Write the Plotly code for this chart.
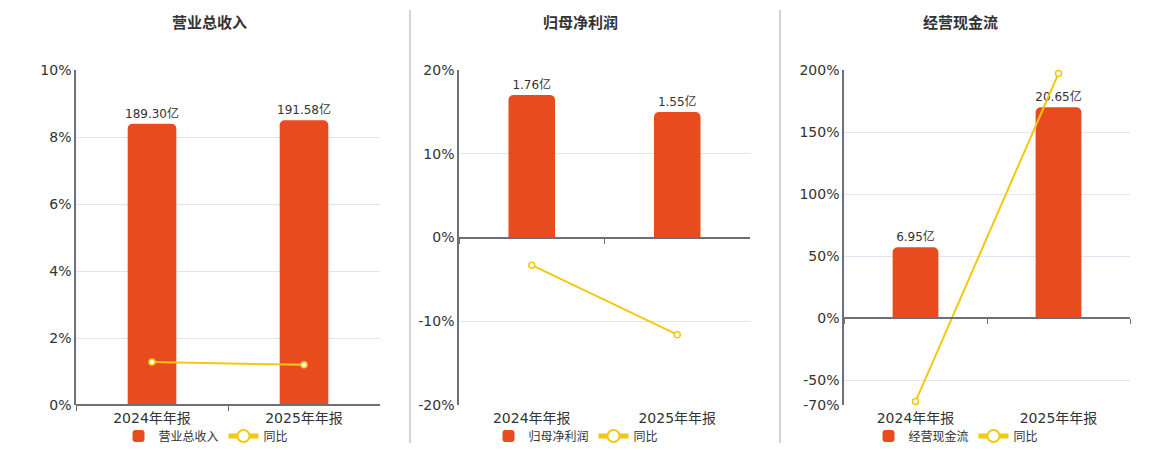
import plotly.graph_objects as go

W, H = 1160, 450
OFF = 8  # page body margin offset compensation

categories = ["2024年年报", "2025年年报"]
titles = ["营业总收入", "归母净利润", "经营现金流"]
bar_values = [[189.30, 191.58], [1.76, 1.55], [6.95, 20.65]]
bar_labels = [["189.30亿", "191.58亿"], ["1.76亿", "1.55亿"], ["6.95亿", "20.65亿"]]
yoy_values = [[1.28, 1.20], [-3.3, -11.6], [-67.2, 197.1]]
pct_ranges = [[0, 10], [-20, 20], [-70, 200]]
pct_ticks = [[0, 2, 4, 6, 8, 10], [-20, -10, 0, 10, 20], [-70, -50, 0, 50, 100, 150, 200]]
bar_ranges = [[0, 225.4], [-2.07, 2.07], [-8.505, 24.3]]
line_name = "同比"

BAR_COLOR = "#E84C1E"
LINE_COLOR = "#F2C811"
AXIS_COLOR = "#6E7079"
GRID_COLOR = "#E0E6F1"
TEXT_COLOR = "#333333"
FONT = "DejaVu Sans, Noto Sans CJK SC, sans-serif"

x_boxes = [(76, 380), (459, 750), (844, 1130)]
y_top, y_bot = 70, 405
legend_cx = [206, 576, 956]
title_cx = [210, 580, 960]


def px(x):
    return (x - OFF) / W


def py(y):
    return (H - (y - OFF)) / H


fig = go.Figure()
layout = dict(
    template="none",
    width=W, height=H, margin=dict(l=0, r=0, t=0, b=0, pad=0, autoexpand=False),
    paper_bgcolor="white", plot_bgcolor="white",
    font=dict(family=FONT, color=TEXT_COLOR, size=12),
    barcornerradius=5,
    annotations=[], shapes=[],
)

yd = [py(y_bot), py(y_top)]
for i in range(3):
    n = i + 1
    nl = i + 4
    ms = "" if n == 1 else str(n)   # main axes: zero-line x + hidden bar y
    ls = str(nl)                    # overlay axes: label x + percent y
    x0, x1 = x_boxes[i]
    xd = [px(x0), px(x1)]
    lo, hi = pct_ranges[i]
    zero_paper = yd[0] + (0 - lo) / (hi - lo) * (yd[1] - yd[0])
    leg = "legend" if n == 1 else f"legend{n}"

    fig.add_trace(go.Bar(
        x=categories, y=bar_values[i], name=titles[i],
        xaxis="x" + ms, yaxis="y" + ms,
        marker=dict(color=BAR_COLOR, line=dict(width=0)), width=0.32,
        text=bar_labels[i], textposition="outside", constraintext="none",
        textfont=dict(size=12, color=TEXT_COLOR), cliponaxis=False,
        legend=leg, hoverinfo="skip",
    ))
    fig.add_trace(go.Scatter(
        x=categories, y=yoy_values[i], name=line_name,
        xaxis="x" + ls, yaxis="y" + ls, mode="lines+markers",
        line=dict(color=LINE_COLOR, width=2),
        marker=dict(symbol="circle", size=6, color="white",
                    line=dict(color=LINE_COLOR, width=1.5)),
        legend=leg, cliponaxis=False, hoverinfo="skip",
    ))

    layout["xaxis" + ms] = dict(
        domain=xd, anchor="free", position=zero_paper,
        type="category", range=[-0.5, 1.5], automargin=False,
        showline=True, linecolor=AXIS_COLOR, linewidth=2,
        ticks="outside", tickson="boundaries", ticklen=5, tickcolor=AXIS_COLOR,
        tickwidth=1, showticklabels=False, showgrid=False, zeroline=False,
    )
    layout["yaxis" + ms] = dict(
        domain=yd, anchor="x" + ms, range=bar_ranges[i],
        visible=False, showgrid=False, zeroline=False, automargin=False,
    )
    layout["xaxis" + ls] = dict(
        domain=xd, anchor="y" + ls, overlaying="x" + ms,
        type="category", range=[-0.5, 1.5],
        showline=False, ticks="", showgrid=False, zeroline=False, automargin=False,
        tickfont=dict(size=14, color=TEXT_COLOR), ticklabelstandoff=3,
    )
    layout["yaxis" + ls] = dict(
        domain=yd, anchor="x" + ls, overlaying="y" + ms, side="left",
        range=[lo, hi], automargin=False,
        tickvals=pct_ticks[i], ticktext=[f"{v}%" for v in pct_ticks[i]],
        showline=True, linecolor=AXIS_COLOR, linewidth=1.5,
        showgrid=True, gridcolor=GRID_COLOR, gridwidth=1, zeroline=False,
        ticks="", tickfont=dict(size=14, color=TEXT_COLOR),
    )
    layout[leg] = dict(
        orientation="h", x=px(legend_cx[i]), xanchor="center",
        y=py(436), yanchor="middle", bgcolor="rgba(0,0,0,0)",
        font=dict(size=12, color=TEXT_COLOR), itemsizing="constant",
        itemwidth=30, tracegroupgap=0,
    )
    layout["annotations"].append(dict(
        text=f"<b>{titles[i]}</b>", x=px(title_cx[i]), y=py(22),
        xref="paper", yref="paper", showarrow=False,
        font=dict(size=15, color=TEXT_COLOR, family="Noto Sans CJK SC"),
        xanchor="center", yanchor="middle",
    ))

for xp in (410, 780):
    layout["shapes"].append(dict(
        type="line", xref="paper", yref="paper",
        x0=px(xp), x1=px(xp), y0=py(443), y1=py(10),
        line=dict(color="#AAAAAA", width=1),
    ))

fig.update_layout(**layout)
fig.write_html("out.html")
